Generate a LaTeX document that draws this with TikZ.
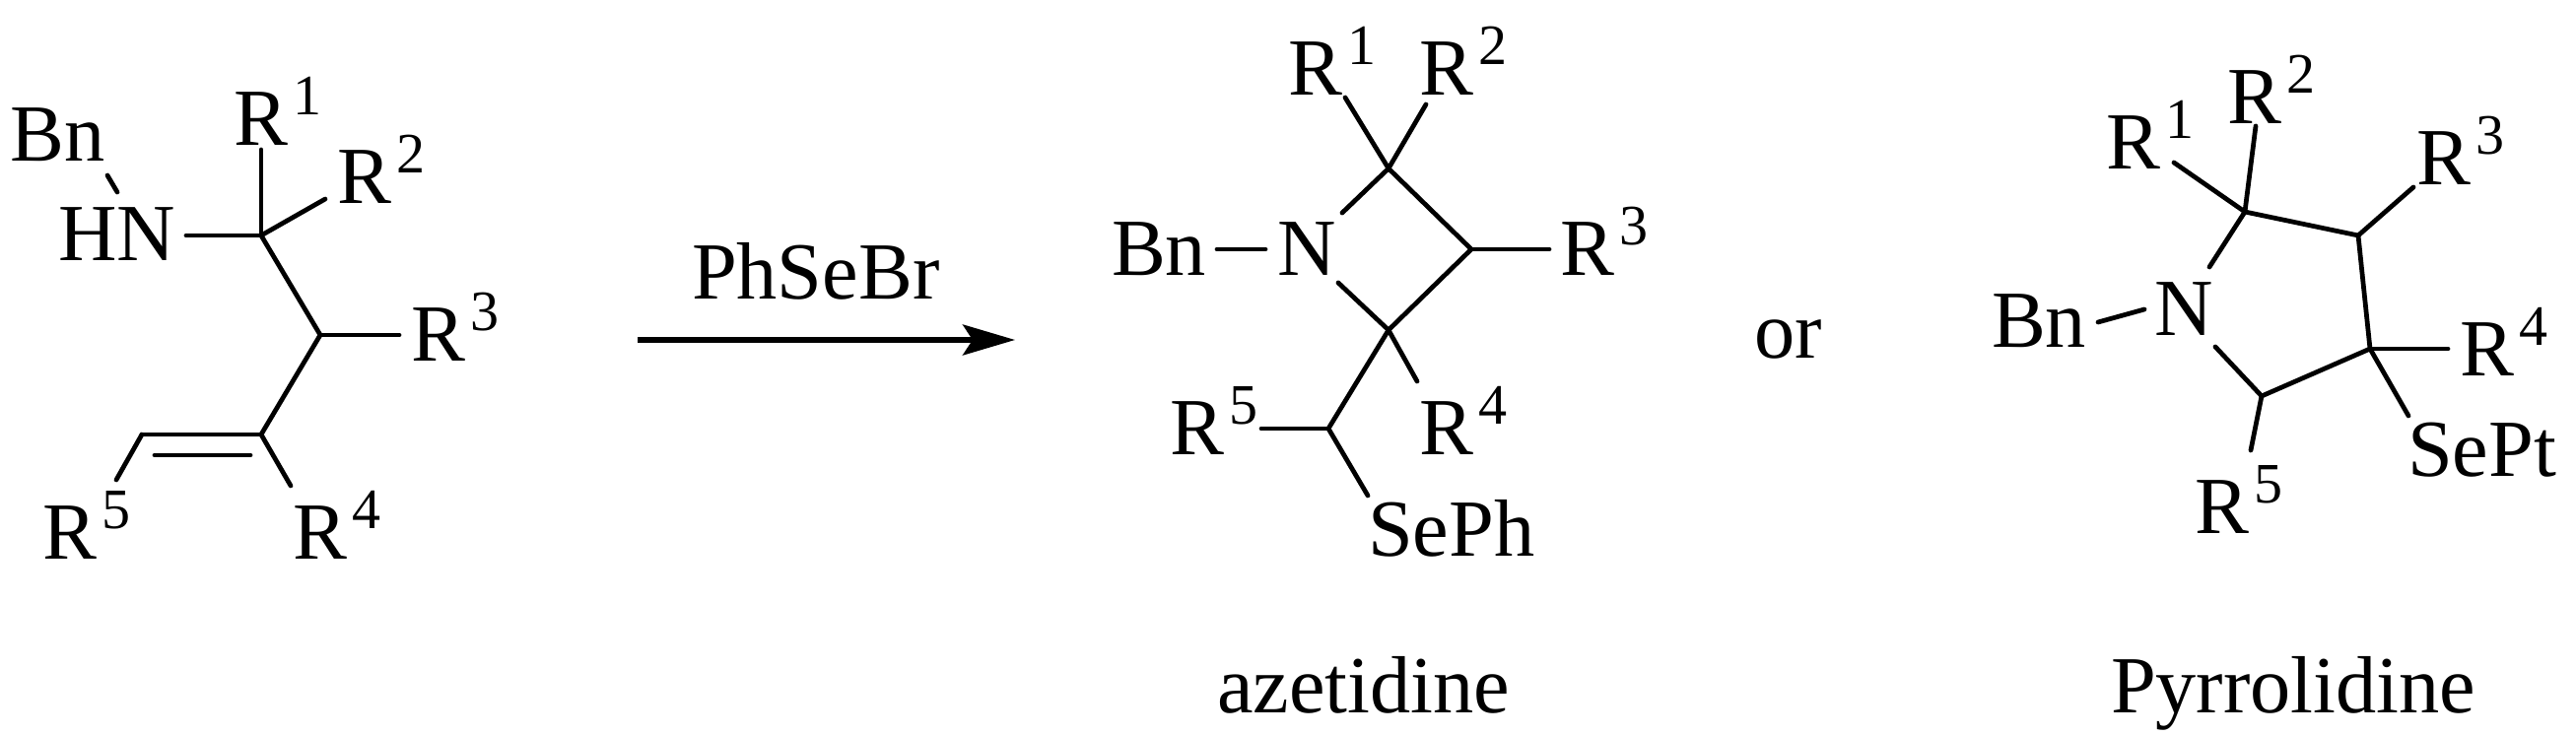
\documentclass[tikz,border=0pt]{standalone}
\usepackage{fontspec}
\setmainfont{Liberation Serif}
\usetikzlibrary{arrows.meta}
\newcommand{\Rsup}[1]{R\kern0.06cm\raisebox{0.31cm}{\fontsize{16.5}{18}\selectfont #1}}
\tikzset{
    lab/.style={anchor=base west, inner sep=0pt, outer sep=0pt, font=\fontsize{23.4}{25}\selectfont},
    bond/.style={line width=1.35pt, line cap=round, line join=round},
}
\begin{document}
\begin{tikzpicture}[x=0.01cm, y=-0.01cm]
    \useasboundingbox (0,0) rectangle (2614,746);
    % open chain
    \foreach \name/\x/\y in {c1/265/239, c2/325/340, c3/265/441, c4/144/441, d1/157/462, d2/254/462,
        e1/265/152, e2/330/202, e3/405/340, e4/295/493, e5/118/487, hn/189/239, b1/109/178, b2/119/195,
        go/647/345, stop/1030/345} {
        \coordinate (\name) at (\x,\y);
    }
    \foreach \name/\x/\y/\num in {ra1/237/148/1, ra2/342/207/2, ra3/417/367/3, ra4/297/568/4, ra5/43/568/5} {
        \node[lab] (\name) at (\x,\y) {\Rsup{\num}};
    }
    \node[lab] (bna) at (11,164) {Bn};
    \node[lab] (hna) at (59,265) {HN};
    \foreach \a/\b in {c1/c2, c2/c3, c3/c4, d1/d2, c1/e1, c1/e2, c2/e3, c3/e4, c4/e5, c1/hn, b1/b2} {
        \draw[bond] (\a) -- (\b);
    }
    % reaction arrow
    \draw[line width=1.5pt, -{Stealth[length=0.53cm, width=0.31cm, inset=0.1cm]}] (go) -- (stop);
    \node[lab] (reagent) at (702,304) {PhSeBr};
    % azetidine
    \foreach \name/\x/\y in {f1/1409/171, f2/1493/253, f3/1409/335, f4/1348/435,
        g1/1365/99, g2/1447/106, g3/1572/253, g4/1438/387, g5/1280/435, g6/1388/503,
        n1/1362/216, n2/1358/287, n3/1235/253, n4/1284/253} {
        \coordinate (\name) at (\x,\y);
    }
    \foreach \name/\x/\y/\num in {rb1/1307/97/1, rb2/1440/97/2, rb3/1583/280/3, rb4/1440/462/4, rb5/1187/462/5} {
        \node[lab] (\name) at (\x,\y) {\Rsup{\num}};
    }
    \node[lab] (bnb) at (1128,280) {Bn};
    \node[lab] (nb) at (1296,280) {N};
    \node[lab] (sephb) at (1388,565) {SePh};
    \node[lab] (azet) at (1235,723) {azetidine};
    \foreach \a/\b in {n1/f1, f1/f2, f2/f3, f3/n2, f3/f4, f1/g1, f1/g2, f2/g3, f3/g4, f4/g5, f4/g6, n3/n4} {
        \draw[bond] (\a) -- (\b);
    }
    \node[lab] (ortext) at (1780,364) {or};
    % pyrrolidine
    \foreach \name/\x/\y in {h2/2278/215, h3/2393/239, h4/2405/354, h5/2295/402,
        k1/2206/165, k2/2289/128, k3/2449/190, k4/2484/354, k5/2284/457, k6/2444/422,
        m1/2242/271, m2/2248/352, m3/2129/327, m4/2176/314} {
        \coordinate (\name) at (\x,\y);
    }
    \foreach \name/\x/\y/\num in {rc1/2137/172/1, rc2/2260/126/2, rc3/2452/188/3, rc4/2496/382/4, rc5/2227/542/5} {
        \node[lab] (\name) at (\x,\y) {\Rsup{\num}};
    }
    \node[lab] (bnc) at (2021,353) {Bn};
    \node[lab] (nc) at (2186,341) {N};
    \node[lab] (sept) at (2443,484) {SePt};
    \node[lab] (pyrr) at (2142,723) {Pyrrolidine};
    \foreach \a/\b in {m1/h2, h2/h3, h3/h4, h4/h5, h5/m2, h2/k1, h2/k2, h3/k3, h4/k4, h5/k5, h4/k6, m3/m4} {
        \draw[bond] (\a) -- (\b);
    }
\end{tikzpicture}
\end{document}
